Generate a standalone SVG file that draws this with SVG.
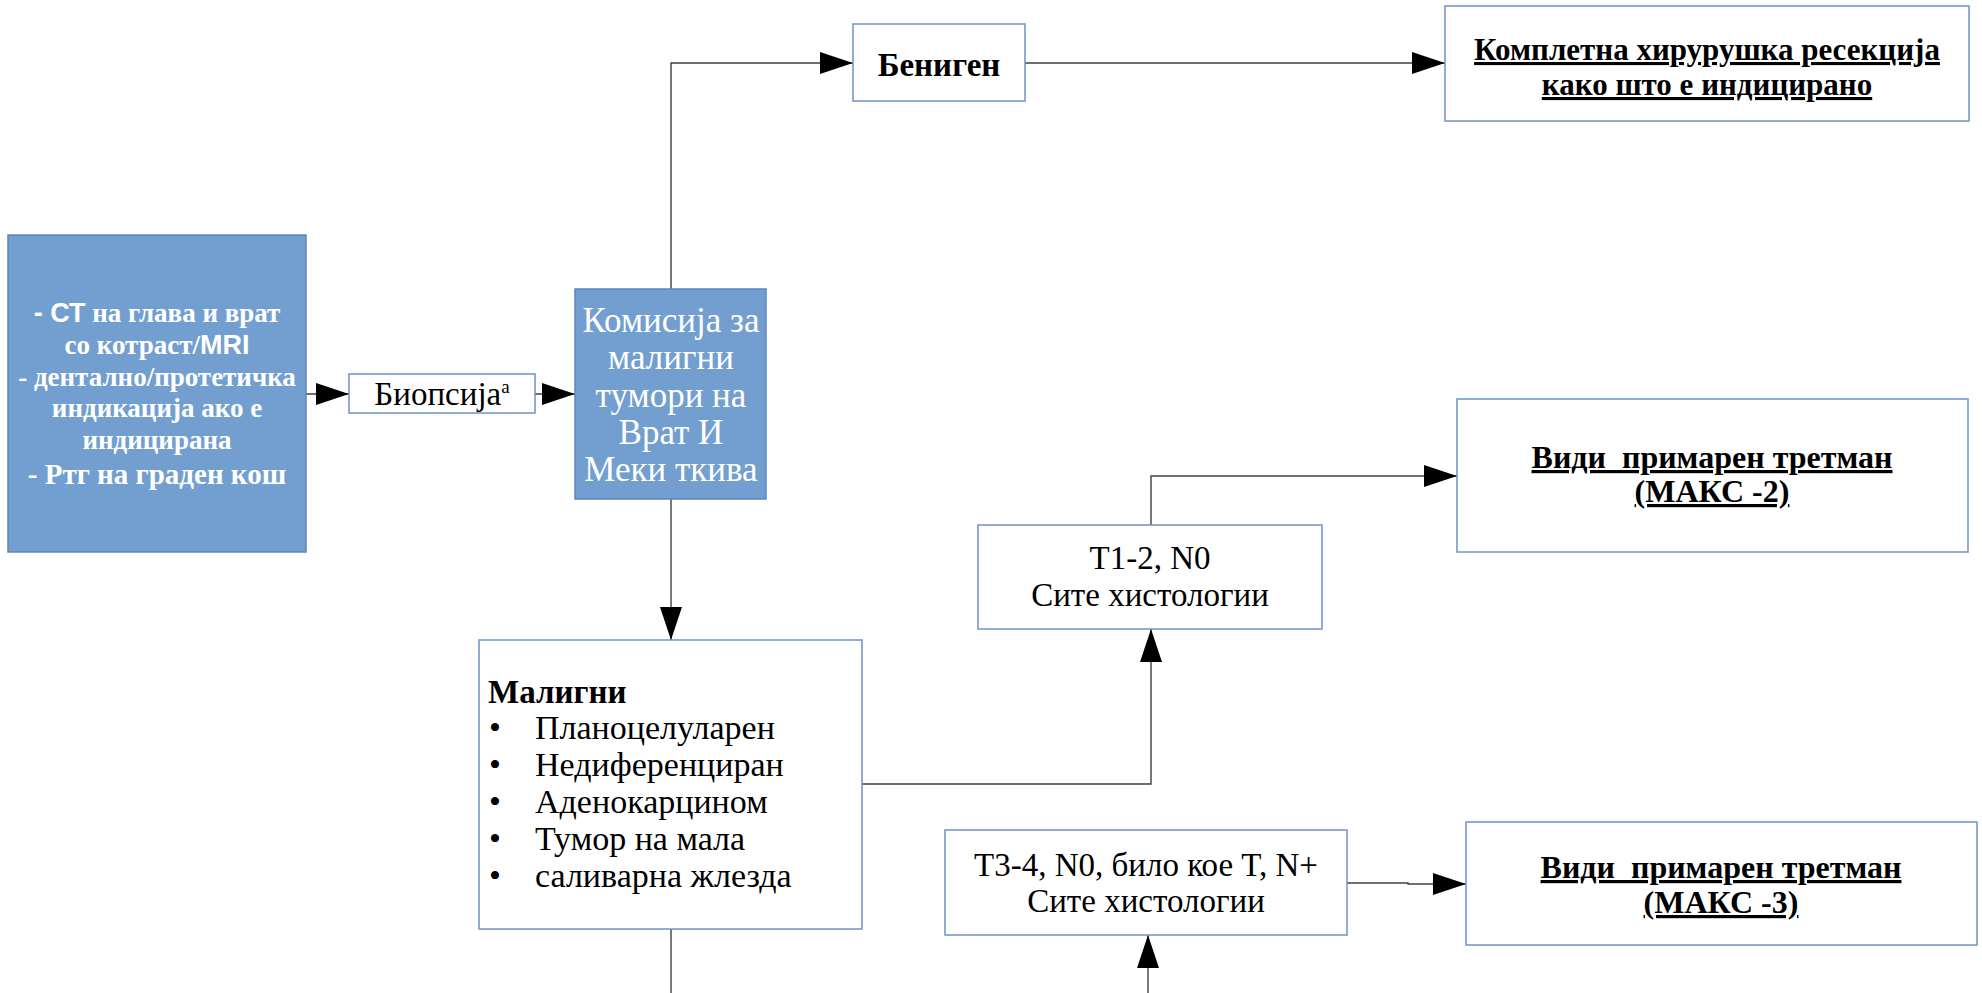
<svg xmlns="http://www.w3.org/2000/svg" width="1982" height="993" viewBox="0 0 1982 993">
<style>
.bg{fill:#ffffff}
.box{fill:#ffffff;stroke:#6f93c6;stroke-width:1.5}
.blue{fill:#729fcf;stroke:#5b86bd;stroke-width:1.5}
.t{font-family:"Liberation Serif","Times New Roman",serif;fill:#000}
.w{font-family:"Liberation Serif","Times New Roman",serif;fill:#fff}
.s{font-family:"Liberation Sans",Arial,sans-serif}
.b{font-weight:bold}
.u{text-decoration:underline}
.c{text-anchor:middle}
.con{fill:none;stroke:#404040;stroke-width:1.4}
</style>
<defs>
<marker id="arr" markerUnits="userSpaceOnUse" markerWidth="33" markerHeight="22" refX="33" refY="11" orient="auto">
<path d="M0,0 L33,11 L0,22 Z" fill="#000"/>
</marker>
</defs>
<rect class="bg" x="0" y="0" width="1982" height="993"/>

<g id="connectors">
<path class="con" d="M306,394 H349" marker-end="url(#arr)"/>
<path class="con" d="M530,394 H575" marker-end="url(#arr)"/>
<path class="con" d="M671,289 V63 H853" marker-end="url(#arr)"/>
<path class="con" d="M1025,63 H1445" marker-end="url(#arr)"/>
<path class="con" d="M671,499 V640" marker-end="url(#arr)"/>
<path class="con" d="M862,784 H1151 V629" marker-end="url(#arr)"/>
<path class="con" d="M1151,525 V476 H1457" marker-end="url(#arr)"/>
<path class="con" d="M671,929 V993"/>
<path class="con" d="M1148,993 V935" marker-end="url(#arr)"/>
<path class="con" d="M1347,883 H1408 V884 H1466" marker-end="url(#arr)"/>
</g>

<g id="n-exams">
<rect class="blue" x="8" y="235" width="298" height="317"/>
<text class="w b c" font-size="27" x="157" y="322"><tspan class="s">- СТ</tspan> на глава и врат</text>
<text class="w b c" font-size="27" x="157" y="354">со котраст/<tspan class="s">MRI</tspan></text>
<text class="w b c" font-size="27" x="157" y="386">- дентално/протетичка</text>
<text class="w b c" font-size="27" x="157" y="417">индикација ако е</text>
<text class="w b c" font-size="27" x="157" y="449">индицирана</text>
<text class="w b c" font-size="29" x="157" y="484">- Ртг на граден кош</text>
</g>

<g id="n-biopsy">
<rect class="box" x="349" y="374" width="186" height="39"/>
<text class="t c" font-size="33" x="442" y="405">Биопсија<tspan font-size="19" dy="-12">a</tspan></text>
</g>

<g id="n-commission">
<rect class="blue" x="575" y="289" width="191" height="210"/>
<text class="w c" font-size="35" x="671" y="332">Комисија за</text>
<text class="w c" font-size="35" x="671" y="369">малигни</text>
<text class="w c" font-size="35" x="671" y="407">тумори на</text>
<text class="w c" font-size="35" x="671" y="444">Врат И</text>
<text class="w c" font-size="35" x="671" y="481">Меки ткива</text>
</g>

<g id="n-benign">
<rect class="box" x="853" y="24" width="172" height="77"/>
<text class="t b c" font-size="33" x="939" y="76">Бениген</text>
</g>

<g id="n-resection">
<rect class="box" x="1445" y="6" width="524" height="115"/>
<text class="t b u c" font-size="31" x="1707" y="60">Комплетна хирурушка ресекција</text>
<text class="t b u c" font-size="31" x="1707" y="95">како што е индицирано</text>
</g>

<g id="n-malign">
<rect class="box" x="479" y="640" width="383" height="289"/>
<text class="t b" font-size="33" x="488" y="703">Малигни</text>
<text class="t" font-size="34" x="489" y="739">•</text>
<text class="t" font-size="34" x="535" y="739">Планоцелуларен</text>
<text class="t" font-size="34" x="489" y="776">•</text>
<text class="t" font-size="34" x="535" y="776">Недиференциран</text>
<text class="t" font-size="34" x="489" y="813">•</text>
<text class="t" font-size="34" x="535" y="813">Аденокарцином</text>
<text class="t" font-size="34" x="489" y="850">•</text>
<text class="t" font-size="34" x="535" y="850">Тумор на мала</text>
<text class="t" font-size="34" x="489" y="887">•</text>
<text class="t" font-size="34" x="535" y="887">саливарна жлезда</text>
</g>

<g id="n-t12">
<rect class="box" x="978" y="525" width="344" height="104"/>
<text class="t c" font-size="33" x="1150" y="569">T1-2, N0</text>
<text class="t c" font-size="33" x="1150" y="606">Сите хистологии</text>
</g>

<g id="n-max2">
<rect class="box" x="1457" y="399" width="511" height="153"/>
<text class="t b u c" font-size="32" x="1712" y="468" xml:space="preserve">Види  примарен третман</text>
<text class="t b u c" font-size="32" x="1712" y="502">(МАКС -2)</text>
</g>

<g id="n-t34">
<rect class="box" x="945" y="830" width="402" height="105"/>
<text class="t c" font-size="33" x="1146" y="876">T3-4, N0, било кое T, N+</text>
<text class="t c" font-size="33" x="1146" y="912">Сите хистологии</text>
</g>

<g id="n-max3">
<rect class="box" x="1466" y="822" width="511" height="123"/>
<text class="t b u c" font-size="32" x="1721" y="878" xml:space="preserve">Види  примарен третман</text>
<text class="t b u c" font-size="32" x="1721" y="913">(МАКС -3)</text>
</g>
</svg>
